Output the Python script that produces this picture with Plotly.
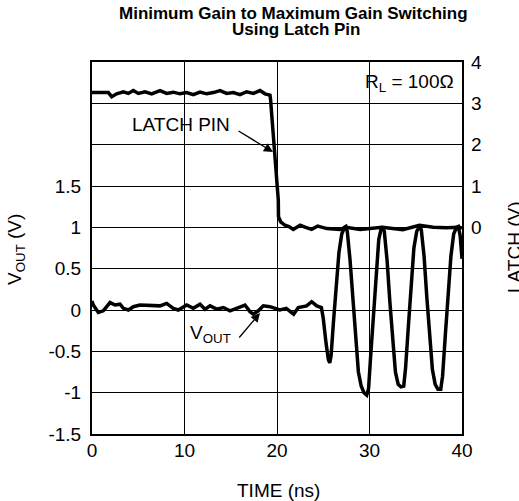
import plotly.graph_objects as go

# ---- data ----
t_latch = [0, 1.77, 2.13, 2.67, 3.39, 3.93, 4.47, 5.01, 5.73, 6.45, 7.35, 8.07, 8.79, 9.51,
           10.23, 10.95, 11.68, 12.4, 13.12, 13.84, 14.56, 15.28, 16.0, 16.72, 17.44, 18.16,
           18.7, 19.24, 19.3, 19.96, 20.14, 20.16, 20.4, 20.86, 21.3, 21.76, 22.5, 23.1, 23.75,
           24.4, 25.4, 26.8, 27.45, 29.0, 30.1, 31.4, 32.5, 33.6, 35.4, 36.9, 38.3, 39.7, 40]
latch_v = [3.26, 3.26, 3.16, 3.23, 3.28, 3.24, 3.31, 3.24, 3.28, 3.23, 3.31, 3.24, 3.27, 3.23,
           3.26, 3.21, 3.27, 3.23, 3.26, 3.31, 3.24, 3.26, 3.21, 3.28, 3.24, 3.31,
           3.23, 3.2, 3.1, 1.15, 0.66, 0.26, 0.13, 0.05, 0.02, -0.05, 0.05, 0.0, -0.05,
           0.03, -0.03, -0.05, 0.0, -0.05, -0.02, 0.0, -0.03, -0.06, 0.05, 0.0, -0.01, 0.0, -0.02]

t_vout = [0, 0.14, 0.68, 1.22, 1.95, 2.49, 3.03, 3.39, 3.93, 4.47, 5.19, 6.27, 7.35, 8.07,
          8.79, 9.33, 10.24, 10.95, 11.68, 12.22, 12.76, 13.48, 14.2, 14.92, 15.64, 16.54,
          17.08, 17.44, 17.98, 18.52, 19.24, 19.96, 20.3, 21.0, 21.8, 22.3, 23.2, 23.75, 24.3,
          24.8, 25.0, 25.3, 25.55, 25.7, 25.85, 26.1, 26.4, 26.7, 27.0, 27.3, 27.45, 27.6,
          27.9, 28.2, 28.5, 28.8, 29.1, 29.4, 29.7, 29.9, 30.1, 30.4, 30.7, 31.0, 31.25, 31.4,
          31.6, 31.9, 32.2, 32.5, 32.8, 33.1, 33.4, 33.7, 33.9, 34.2, 34.5, 34.8, 35.1, 35.4,
          35.6, 35.9, 36.2, 36.5, 36.8, 37.1, 37.4, 37.7, 37.9, 38.2, 38.5, 38.8, 39.1, 39.4,
          39.6, 39.8, 40.0]
vout_v = [0.11, 0.06, -0.03, -0.01, 0.09, 0.06, 0.07, 0.02, 0.0, 0.04, 0.06, 0.05, 0.05, 0.08,
          0.02, 0.0, 0.06, 0.02, 0.07, 0.01, 0.05, 0.01, 0.03, -0.01, 0.02, 0.06,
          -0.02, -0.05, -0.01, 0.05, 0.04, 0.02, 0.0, 0.02, -0.05, 0.03, 0.05, 0.1, 0.05,
          0.03, -0.1, -0.4, -0.6, -0.64, -0.55, -0.15, 0.3, 0.7, 0.92, 1.0, 1.01, 0.95,
          0.6, 0.1, -0.4, -0.75, -0.92, -1.0, -1.03, -0.95, -0.6, -0.1, 0.4, 0.85, 0.98, 1.01,
          0.95, 0.6, 0.1, -0.4, -0.75, -0.9, -0.93, -0.92, -0.7, -0.2, 0.3, 0.75, 0.95, 1.01,
          0.97, 0.65, 0.15, -0.35, -0.72, -0.9, -0.96, -0.96, -0.8, -0.3, 0.2, 0.65, 0.92, 1.0,
          1.01, 0.9, 0.62]

x_ticks = [0, 10, 20, 30, 40]
y_tickvals = [-1.5, -1, -0.5, 0, 0.5, 1, 1.5, 2, 2.5, 3]
y_ticktext = ["-1.5", "-1", "-0.5", "0", "0.5", "1", "1.5", "", "", ""]
y2_tickvals = [0, 1, 2, 3, 4]
y2_ticktext = ["0", "1", "2", "3", "4"]

FONT = "Arial, Liberation Sans, sans-serif"
FS = 19

# plot-area geometry in pixels
L, R, T, B = 92, 462, 62, 434
W, H = 519, 501


def px_x(p):
    return (p - L) / (R - L)


def px_y(p):
    return (B - p) / (B - T)


fig = go.Figure()
fig.add_trace(go.Scatter(x=t_vout, y=vout_v, mode="lines", yaxis="y",
                         line=dict(color="black", width=3.5), hoverinfo="skip"))
fig.add_trace(go.Scatter(x=t_latch, y=latch_v, mode="lines", yaxis="y2",
                         line=dict(color="black", width=3.5), hoverinfo="skip"))

fig.update_layout(
    width=W, height=H,
    margin=dict(l=L, r=W - R, t=T, b=H - B, autoexpand=False),
    paper_bgcolor="white", plot_bgcolor="white",
    showlegend=False,
    font=dict(family=FONT, size=FS, color="black"),
    xaxis=dict(range=[0, 40], tickvals=x_ticks, ticks="", showgrid=True,
               gridcolor="black", gridwidth=1, zeroline=False, automargin=False,
               showline=True, linecolor="black", linewidth=2, mirror=True,
               ticklabelstandoff=-2),
    yaxis=dict(range=[-1.5, 3.0], tickvals=y_tickvals, ticktext=y_ticktext, ticks="",
               showgrid=True, gridcolor="black", gridwidth=1, zeroline=False,
               automargin=False,
               showline=True, linecolor="black", linewidth=2, mirror=True,
               ticklabelstandoff=5),
    yaxis2=dict(range=[-5, 4], tickvals=y2_tickvals, ticktext=y2_ticktext, ticks="",
                overlaying="y", side="right", showgrid=False, zeroline=False,
                automargin=False, showline=False, ticklabelstandoff=8),
)

annotations = [
    dict(text="<b>Minimum Gain to Maximum Gain Switching</b>",
         xref="paper", yref="paper", x=px_x(293), y=px_y(14),
         xanchor="center", yanchor="middle", showarrow=False,
         font=dict(size=17)),
    dict(text="<b>Using Latch Pin</b>",
         xref="paper", yref="paper", x=px_x(296), y=px_y(29),
         xanchor="center", yanchor="middle", showarrow=False,
         font=dict(size=17)),
    dict(text="TIME (ns)", xref="paper", yref="paper", x=px_x(278), y=px_y(490),
         showarrow=False, xanchor="center", yanchor="middle"),
    dict(text="V<sub>OUT</sub> (V)", xref="paper", yref="paper",
         x=px_x(16), y=px_y(250), textangle=-90,
         showarrow=False, xanchor="center", yanchor="middle"),
    dict(text="LATCH (V)", xref="paper", yref="paper",
         x=px_x(514), y=px_y(248), textangle=-90,
         showarrow=False, xanchor="center", yanchor="middle"),
    dict(text="R<sub>L</sub> = 100Ω", xref="paper", yref="paper",
         x=px_x(456), y=px_y(83), showarrow=False,
         xanchor="right", yanchor="middle"),
    dict(text="LATCH PIN", xref="x", yref="y", x=9.62, y=2.238,
         showarrow=False, xanchor="center", yanchor="middle"),
    dict(text="", xref="x", yref="y", x=19.57, y=1.911, ax=15.68, ay=2.177,
         axref="x", ayref="y", showarrow=True, arrowhead=2, arrowsize=1.4,
         arrowwidth=1.3, arrowcolor="black"),
    dict(text="V<sub>OUT</sub>", xref="x", yref="y", x=12.86, y=-0.29,
         showarrow=False, xanchor="center", yanchor="middle"),
    dict(text="", xref="x", yref="y", x=18.16, y=-0.036, ax=15.78, ay=-0.351,
         axref="x", ayref="y", showarrow=True, arrowhead=2, arrowsize=1.4,
         arrowwidth=1.3, arrowcolor="black"),
]
fig.update_layout(annotations=annotations)

fig.write_html("out.html",
               config={"displayModeBar": False, "staticPlot": True},
               post_script="document.body.style.margin='0px';document.body.style.overflow='hidden';")
